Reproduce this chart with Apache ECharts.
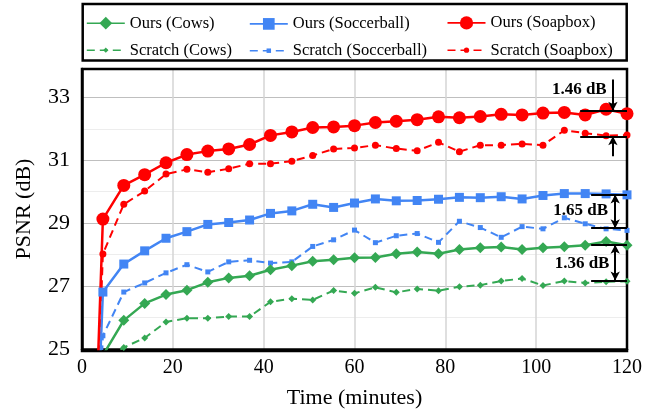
<!DOCTYPE html>
<html>
<head>
<meta charset="utf-8">
<script src="https://cdn.jsdelivr.net/npm/echarts@6/dist/echarts.min.js"></script>
<style>
  html, body { margin: 0; padding: 0; background: #fff; }
  #main { width: 646px; height: 414px; }
</style>
</head>
<body>
<div id="main"></div>
<script>
// time stamps (minutes); the first point sits far below the visible range
const times = [0, 4.6, 9.2, 13.8, 18.5, 23.1, 27.7, 32.3, 36.9, 41.5, 46.2, 50.8, 55.4, 60,
  64.6, 69.2, 73.8, 78.5, 83.1, 87.7, 92.3, 96.9, 101.5, 106.2, 110.8, 115.4, 120];

const oursCows = [10, 24.8, 25.91, 26.45, 26.73, 26.87, 27.12, 27.26, 27.33, 27.52, 27.65, 27.79, 27.84,
  27.9, 27.91, 28.03, 28.08, 28.03, 28.16, 28.22, 28.24, 28.16, 28.22, 28.25, 28.3, 28.42, 28.3];
const scratchCows = [10, 24.6, 25.05, 25.35, 25.86, 25.98, 25.98, 26.03, 26.03, 26.5, 26.6, 26.56, 26.86,
  26.77, 26.96, 26.8, 26.91, 26.85, 26.98, 27.03, 27.16, 27.24, 27.02, 27.16, 27.1, 27.14, 27.15];
const oursSoccer = [10, 26.81, 27.7, 28.12, 28.52, 28.73, 28.96, 29.02, 29.1, 29.31, 29.39, 29.6, 29.5,
  29.64, 29.77, 29.71, 29.72, 29.76, 29.82, 29.81, 29.84, 29.77, 29.88, 29.94, 29.94, 29.93, 29.9];
const scratchSoccer = [10, 25.42, 26.81, 27.1, 27.42, 27.68, 27.45, 27.77, 27.82, 27.73, 27.77, 28.26, 28.47,
  28.78, 28.38, 28.6, 28.67, 28.39, 29.06, 28.86, 28.55, 28.89, 28.82, 29.17, 28.98, 28.82, 28.77];
const oursSoap = [10, 29.13, 30.2, 30.54, 30.92, 31.18, 31.29, 31.36, 31.5, 31.79, 31.9, 32.04, 32.06,
  32.1, 32.2, 32.24, 32.29, 32.38, 32.35, 32.39, 32.46, 32.44, 32.5, 32.52, 32.44, 32.62, 32.48];
const scratchSoap = [10, 28.02, 29.6, 30.02, 30.56, 30.71, 30.62, 30.73, 30.89, 30.89, 30.97, 31.15, 31.36,
  31.39, 31.48, 31.37, 31.3, 31.57, 31.27, 31.48, 31.48, 31.52, 31.48, 31.95, 31.86, 31.78, 31.8];

// gap annotations: [xStart, yTop, yBottom, arrowX, label, labelX, labelY]
const gapRed = [109.7, 32.57, 31.76, 116.9, '1.46 dB', 109.5, 33.23];
const gapBlue = [112.1, 29.91, 28.84, 117.4, '1.65 dB', 109.8, 29.39];
const gapGreen = [112.1, 28.31, 27.18, 117.4, '1.36 dB', 110.1, 27.73];

const GREEN = '#34A853';
const BLUE = '#4285F4';
const RED = '#FF0000';
const FONT = 'Liberation Serif';

const chart = echarts.init(document.getElementById('main'));

function pts(values) {
  return times.map((t, i) => [t, values[i]]);
}

function lineSeries(name, values, color, symbol, size, dashed) {
  return {
    name: name,
    type: 'line',
    data: pts(values),
    symbol: symbol,
    symbolSize: size,
    showAllSymbol: true,
    itemStyle: { color: color },
    lineStyle: { color: color, width: dashed ? 2 : 2.5, type: dashed ? [8, 5] : 'solid' },
    z: dashed ? 2 : 3
  };
}

function legendAt(name, left, top, h) {
  return {
    data: [name],
    left: left,
    top: top,
    padding: 0,
    itemWidth: 38,
    itemHeight: h,
    selectedMode: false,
    lineStyle: { width: 1.6 },
    textStyle: { fontFamily: FONT, fontSize: 16.5, color: '#000', lineHeight: h }
  };
}

// markLine pieces for the annotations
const mlData = [];
const mpData = [];
[gapRed, gapBlue, gapGreen].forEach((g, i) => {
  mlData.push([{ coord: [g[0], g[1]], symbol: 'none' }, { coord: [120, g[1]], symbol: 'none' }]);
  mlData.push([{ coord: [g[0], g[2]], symbol: 'none' }, { coord: [120, g[2]], symbol: 'none' }]);
  if (i === 0) {
    mlData.push([{ coord: [g[3], 33.57], symbol: 'none' }, { coord: [g[3], g[1]], symbol: 'arrow' }]);
    mlData.push([{ coord: [g[3], 31.13], symbol: 'none' }, { coord: [g[3], g[2]], symbol: 'arrow' }]);
  } else {
    mlData.push([{ coord: [g[3], g[1]], symbol: 'arrow' }, { coord: [g[3], g[2]], symbol: 'arrow' }]);
  }
  mpData.push({ name: g[4], coord: [g[5], g[6]] });
});

const option = {
  animation: false,
  backgroundColor: '#fff',
  grid: {
    left: 82, right: 19, top: 69, bottom: 63,
    show: false
  },
  legend: [
    legendAt('Ours (Cows)', 86, 14.7, 16),
    legendAt('Ours (Soccerball)', 249, 15.4, 14.6),
    legendAt('Ours (Soapbox)', 446.7, 14.4, 16.6),
    legendAt('Scratch (Cows)', 86, 41.7, 6.6),
    legendAt('Scratch (Soccerball)', 249, 42.2, 5.6),
    legendAt('Scratch (Soapbox)', 446.7, 41.7, 6.6)
  ],
  graphic: [
    {
      type: 'rect',
      shape: { x: 82.7, y: 4, width: 544, height: 56.5 },
      style: { fill: 'none', stroke: '#000', lineWidth: 2.5 },
      z: 10
    },
    {
      // plot frame, kept above the grid lines
      type: 'rect',
      shape: { x: 82, y: 69, width: 545, height: 282 },
      style: { fill: 'none', stroke: '#000', lineWidth: 2.5 },
      silent: true,
      z: 1
    }
  ],
  xAxis: {
    type: 'value',
    min: 0, max: 120, interval: 20,
    name: 'Time (minutes)',
    nameLocation: 'middle',
    nameGap: 38,
    nameTextStyle: { fontFamily: FONT, fontSize: 22, color: '#000' },
    axisLine: { show: true, lineStyle: { color: '#000', width: 2.5 } },
    axisTick: { show: false },
    axisLabel: { fontFamily: FONT, fontSize: 20, color: '#000', margin: 9 },
    splitLine: { show: true, showMinLine: false, showMaxLine: false, lineStyle: { color: '#D4D4D4', width: 1.5 } }
  },
  yAxis: {
    type: 'value',
    min: 25, max: 33.9, interval: 1,
    name: 'PSNR (dB)',
    nameLocation: 'middle',
    nameGap: 47,
    nameTextStyle: { fontFamily: FONT, fontSize: 22, color: '#000' },
    axisLine: { show: true, lineStyle: { color: '#000', width: 2.5 } },
    axisTick: { show: false },
    axisLabel: {
      fontFamily: FONT, fontSize: 22, color: '#000', margin: 12,
      formatter: v => (v % 2 === 1 ? String(v) : '')
    },
    splitLine: { show: true, lineStyle: { color: ['#BFBFBF', '#EDEDED'], width: 1.2 } }
  },
  series: [
    lineSeries('Ours (Cows)', oursCows, GREEN, 'diamond', 11, false),
    lineSeries('Ours (Soccerball)', oursSoccer, BLUE, 'rect', 9, false),
    lineSeries('Ours (Soapbox)', oursSoap, RED, 'circle', 13, false),
    lineSeries('Scratch (Cows)', scratchCows, GREEN, 'diamond', 7, true),
    lineSeries('Scratch (Soccerball)', scratchSoccer, BLUE, 'rect', 5, true),
    lineSeries('Scratch (Soapbox)', scratchSoap, RED, 'circle', 7, true),
    {
      name: 'gaps',
      type: 'line',
      data: [],
      z: 5,
      markLine: {
        silent: true,
        animation: false,
        symbolSize: [7, 9],
        label: { show: false },
        lineStyle: { color: '#000', type: 'solid', width: 2 },
        emphasis: { disabled: true },
        data: mlData
      },
      markPoint: {
        silent: true,
        symbol: 'circle',
        symbolSize: 1,
        itemStyle: { color: 'rgba(0,0,0,0)' },
        label: {
          show: true, position: 'inside', formatter: '{b}',
          fontFamily: FONT, fontWeight: 'bold', fontSize: 17, color: '#000'
        },
        data: mpData
      }
    }
  ]
};

chart.setOption(option);
</script>
</body>
</html>
